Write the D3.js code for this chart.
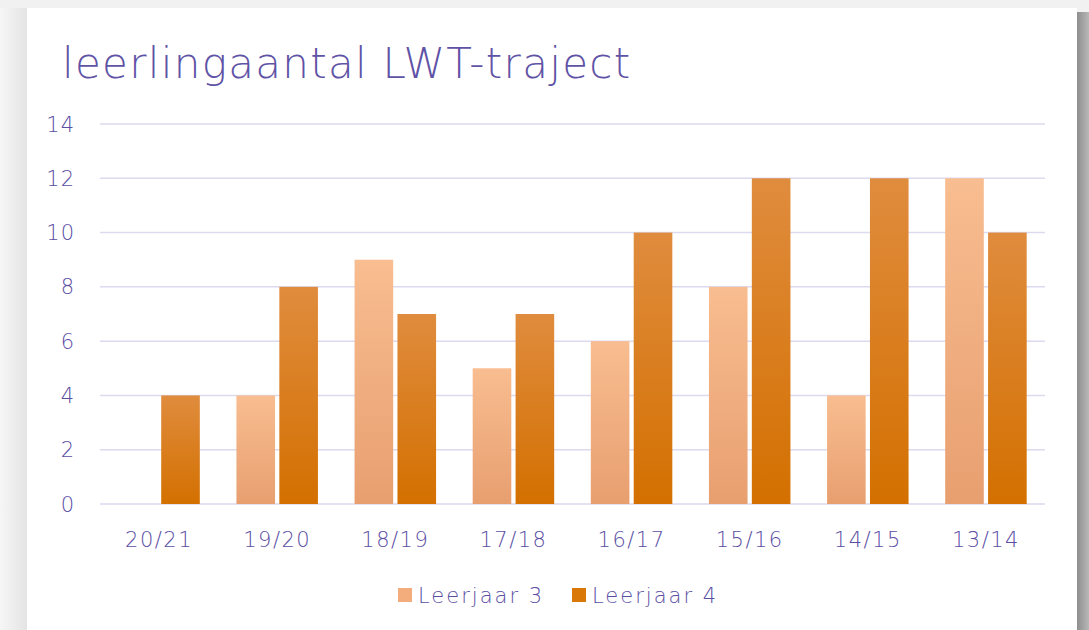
<!DOCTYPE html>
<html>
<head>
    <title>leerlingaantal LWT-traject</title>
    <script src="https://cdn.jsdelivr.net/npm/d3@7"></script>
    <style>
        body { margin: 0; background: #efefef; }
    </style>
</head>
<body>
    <svg width="1089" height="630" id="mainsvg"></svg>
    <script>
        const svg = d3.select('svg');
        const width = +svg.attr('width');
        const height = +svg.attr('height');

        // data
        const years = ['20/21', '19/20', '18/19', '17/18', '16/17', '15/16', '14/15', '13/14'];
        const seriesNames = ['Leerjaar 3', 'Leerjaar 4'];
        const leerjaar3 = [0, 4, 9, 5, 6, 8, 4, 12];
        const leerjaar4 = [4, 8, 7, 7, 10, 12, 12, 10];
        const yTicks = [0, 2, 4, 6, 8, 10, 12, 14];

        const rows = years.map((y, i) => ({year: y, 'Leerjaar 3': leerjaar3[i], 'Leerjaar 4': leerjaar4[i]}));

        const textColor = '#5a4ea3';
        const font = '"DejaVu Sans", sans-serif';

        const defs = svg.append('defs');
        const g3 = defs.append('linearGradient').attr('id', 'grad3').attr('x1', 0).attr('y1', 0).attr('x2', 0).attr('y2', 1);
        g3.append('stop').attr('offset', '0%').attr('stop-color', '#f8bd90');
        g3.append('stop').attr('offset', '100%').attr('stop-color', '#e89f70');
        const g4 = defs.append('linearGradient').attr('id', 'grad4').attr('x1', 0).attr('y1', 0).attr('x2', 0).attr('y2', 1);
        g4.append('stop').attr('offset', '0%').attr('stop-color', '#e08c3e');
        g4.append('stop').attr('offset', '100%').attr('stop-color', '#d37000');
        const sh = defs.append('linearGradient').attr('id', 'shadowR').attr('x1', 0).attr('y1', 0).attr('x2', 1).attr('y2', 0);
        sh.append('stop').attr('offset', '0%').attr('stop-color', '#8e8e8e');
        sh.append('stop').attr('offset', '100%').attr('stop-color', '#b8b8b8');
        const shL = defs.append('linearGradient').attr('id', 'shadowL').attr('x1', 0).attr('y1', 0).attr('x2', 1).attr('y2', 0);
        shL.append('stop').attr('offset', '0%').attr('stop-color', '#f6f6f6');
        shL.append('stop').attr('offset', '100%').attr('stop-color', '#e4e4e4');

        // card and shadow
        svg.append('rect').attr('x', 0).attr('y', 0).attr('width', width).attr('height', height).attr('fill', '#f1f1f1');
        svg.append('rect').attr('x', 0).attr('y', 8).attr('width', 27).attr('height', height).attr('fill', 'url(#shadowL)');
        svg.append('rect').attr('x', 1077).attr('y', 12).attr('width', 12).attr('height', height).attr('fill', 'url(#shadowR)');
        svg.append('rect').attr('x', 27).attr('y', 8).attr('width', 1050).attr('height', height).attr('fill', '#ffffff');

        // title
        svg.append('text')
            .attr('x', 62).attr('y', 78)
            .attr('font-family', font)
            .attr('font-weight', 300)
            .attr('font-size', 42)
            .attr('letter-spacing', 1.3)
            .attr('fill', '#5f53a6')
            .text('leerlingaantal LWT-traject');

        const margin = {left: 100, right: 1045, top: 124, bottom: 504};

        const x0 = d3.scaleBand().domain(years).range([margin.left, margin.right]).paddingInner(0.31).paddingOuter(0.155);
        const x1 = d3.scaleBand().domain(seriesNames).range([0, x0.bandwidth()]).paddingInner(0.1);
        const y = d3.scaleLinear().domain([0, 14]).range([margin.bottom, margin.top]);

        // gridlines
        svg.append('g').selectAll('line').data(yTicks).join('line')
            .attr('x1', margin.left).attr('x2', margin.right)
            .attr('y1', d => y(d)).attr('y2', d => y(d))
            .attr('stroke', '#dcdaee').attr('stroke-width', 1.5);

        // y tick labels
        svg.append('g').selectAll('text').data(yTicks).join('text')
            .attr('x', 75).attr('y', d => y(d))
            .attr('dy', '0.36em')
            .attr('text-anchor', 'end')
            .attr('font-family', font).attr('font-weight', 300).attr('font-size', 21)
            .attr('letter-spacing', 1)
            .attr('fill', textColor)
            .text(d => d);

        // bars
        const fills = {'Leerjaar 3': 'url(#grad3)', 'Leerjaar 4': 'url(#grad4)'};
        svg.append('g').selectAll('g').data(rows).join('g')
            .attr('transform', d => `translate(${x0(d.year)},0)`)
            .selectAll('rect')
            .data(d => seriesNames.map(s => ({key: s, value: d[s]})).filter(d => d.value > 0))
            .join('rect')
            .attr('x', d => x1(d.key))
            .attr('y', d => y(d.value))
            .attr('width', x1.bandwidth())
            .attr('height', d => y(0) - y(d.value))
            .attr('fill', d => fills[d.key]);

        // x labels
        svg.append('g').selectAll('text').data(years).join('text')
            .attr('x', d => x0(d) + x0.bandwidth() / 2)
            .attr('y', 547)
            .attr('text-anchor', 'middle')
            .attr('font-family', font).attr('font-weight', 300).attr('font-size', 21)
            .attr('letter-spacing', 1.5)
            .attr('fill', textColor)
            .text(d => d);

        // legend
        const legend = svg.append('g');
        const legendX = [398, 572];
        const legendColors = ['#f3ac7c', '#d97806'];
        seriesNames.forEach((s, i) => {
            legend.append('rect')
                .attr('x', legendX[i]).attr('y', 588)
                .attr('width', 14).attr('height', 14)
                .attr('fill', legendColors[i]);
            legend.append('text')
                .attr('x', legendX[i] + 20).attr('y', 603)
                .attr('font-family', font).attr('font-weight', 300).attr('font-size', 21)
                .attr('letter-spacing', 2)
                .attr('fill', textColor)
                .text(s);
        });
    </script>
</body>
</html>
